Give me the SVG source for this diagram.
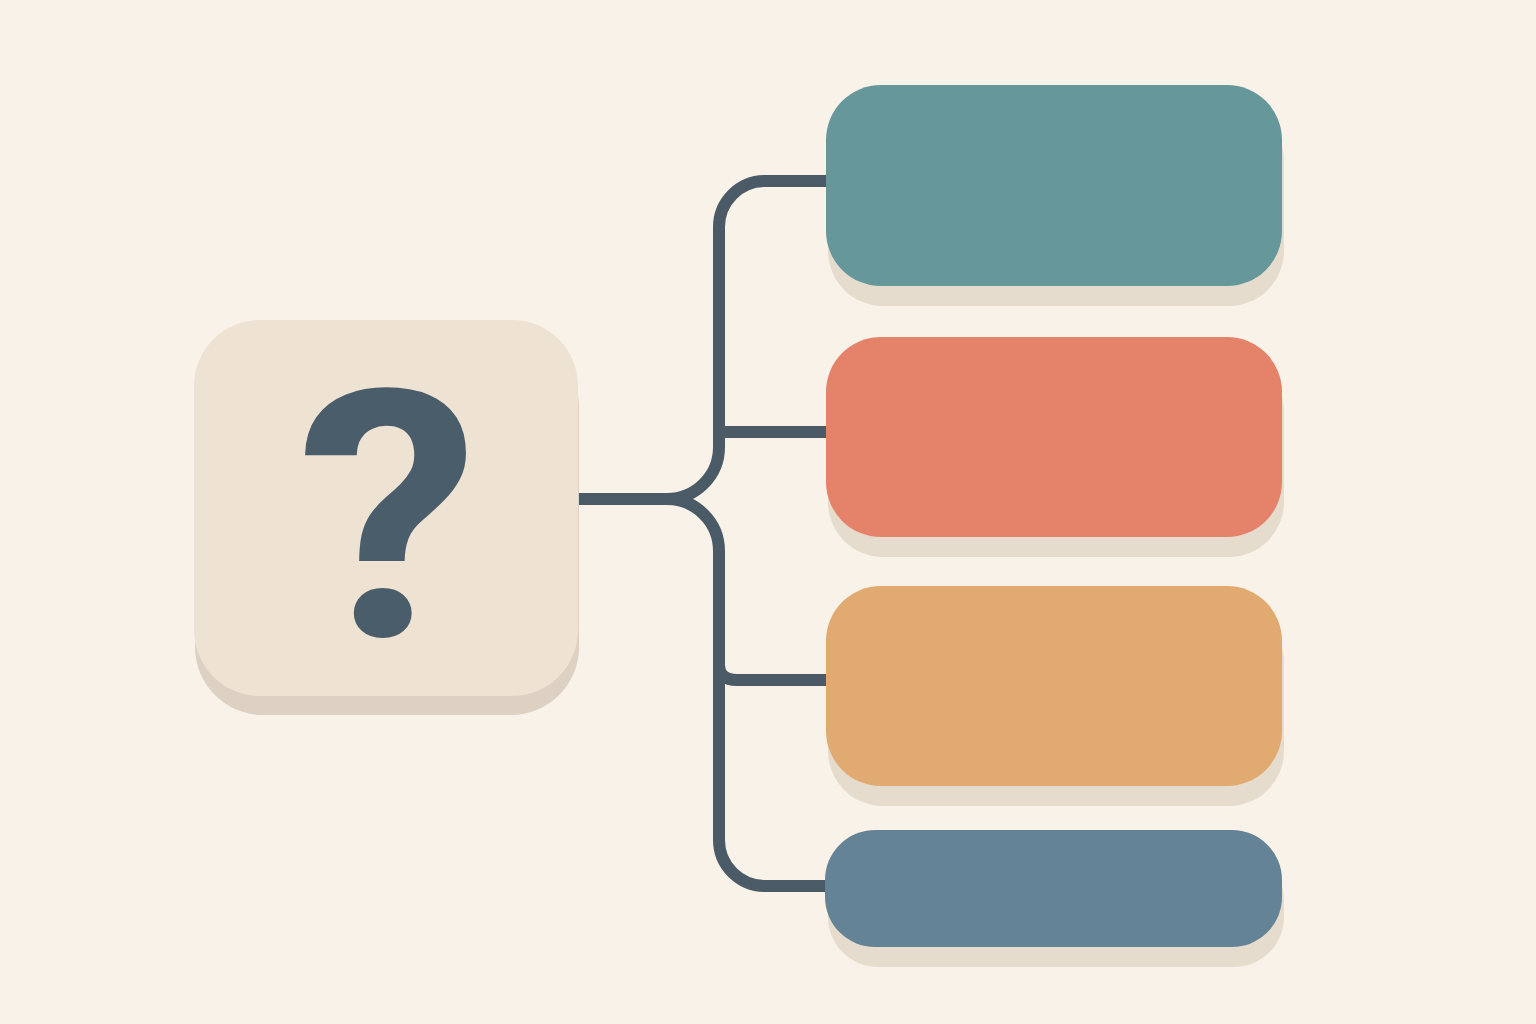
<svg xmlns="http://www.w3.org/2000/svg" width="1536" height="1024" viewBox="0 0 1536 1024">
<style>
.conn{fill:none;stroke:#4A5B67;stroke-width:12;stroke-linecap:butt;stroke-linejoin:round}
.shadow{fill:#E6DCCE}
.q{font-family:Roboto,"Open Sans",sans-serif;font-weight:bold;font-size:345px;fill:#4A5D6A}
</style>
<rect width="1536" height="1024" fill="#F9F2E8"/>
<g id="connectors">
<path class="conn" d="M578 499 H667"/>
<path class="conn" d="M667 499 A52 52 0 0 0 719 447 V227 A46 46 0 0 1 765 181 H827"/>
<path class="conn" d="M719 432 H827"/>
<path class="conn" d="M667 499 A52 52 0 0 1 719 551 V840 A46 46 0 0 0 765 886 H827"/>
<path class="conn" d="M719 664 Q719 680 737 680 H827"/>
</g>
<g id="question">
<rect x="195" y="339" width="384" height="376" rx="68" fill="#DCD1C2"/>
<rect x="194" y="320" width="384" height="376" rx="66" fill="#EEE2D3"/>
<text class="q" transform="translate(388 636) scale(1.06 1)" x="0" y="0" text-anchor="middle">?</text>
</g>
<g id="option1">
<rect class="shadow" x="828" y="105" width="456" height="201" rx="55"/>
<rect x="826" y="85" width="456" height="201" rx="55" fill="#66979A"/>
</g>
<g id="option2">
<rect class="shadow" x="828" y="357" width="456" height="200" rx="55"/>
<rect x="826" y="337" width="456" height="200" rx="55" fill="#E5826A"/>
</g>
<g id="option3">
<rect class="shadow" x="828" y="606" width="456" height="200" rx="55"/>
<rect x="826" y="586" width="456" height="200" rx="55" fill="#E0AA70"/>
</g>
<g id="option4">
<rect class="shadow" x="828" y="850" width="456" height="117" rx="50"/>
<rect x="825" y="830" width="457" height="117" rx="50" fill="#648396"/>
</g>
</svg>
